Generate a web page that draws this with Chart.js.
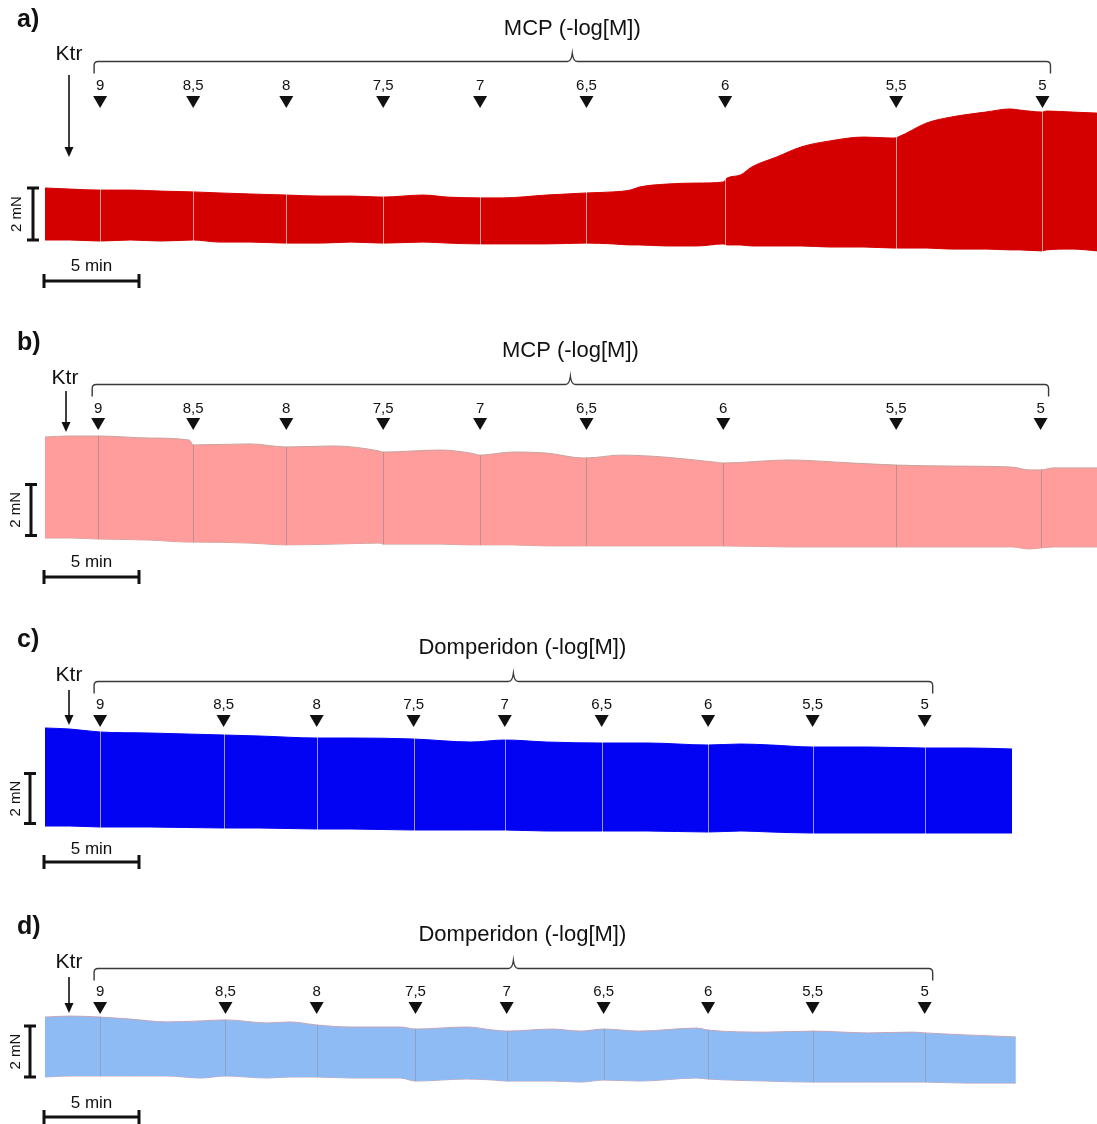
<!DOCTYPE html>
<html>
<head>
<meta charset="utf-8">
<script src="https://cdn.jsdelivr.net/npm/chart.js@4.4.1/dist/chart.umd.min.js"></script>
<style>
  body { margin: 0; background: #fff; }
  #figure { width: 1097px; height: 1124px; }
  canvas { display: block; }
</style>
</head>
<body>
<div id="figure">
  <canvas id="panel-a" width="1097" height="305"></canvas>
  <canvas id="panel-b" width="1097" height="290"></canvas>
  <canvas id="panel-c" width="1097" height="290"></canvas>
  <canvas id="panel-d" width="1097" height="239"></canvas>
</div>
<script>
// recording window shown in every panel (min)
const X_MAX = 55.37;
const doseLabels = ['9', '8,5', '8', '7,5', '7', '6,5', '6', '5,5', '5'];

// a) MCP, red trace: time (min), upper / lower envelope of the contraction (mN)
const timeA = [0, 1.3, 2.9, 4.5, 6.1, 7.8, 9.2, 10.8, 12.7, 14.5, 16.1, 17.8, 19.9, 21.2, 22.9, 24.1, 26.4, 28.5, 29.9, 30.8,
  31.3, 32.7, 34.3, 35.7, 35.9, 36.6, 37.2, 38.5, 39.8, 41.3, 43.1, 44.7, 44.9, 46.4, 47.7, 49.5, 50.8, 51.3, 52.5, 52.7, 54.1, 55.4];
const upperA = [2.00, 1.96, 1.92, 1.92, 1.88, 1.85, 1.81, 1.77, 1.73, 1.69, 1.69, 1.65, 1.73, 1.65, 1.62, 1.62, 1.73, 1.81, 1.85, 1.92,
  2.04, 2.15, 2.19, 2.23, 2.38, 2.50, 2.81, 3.19, 3.58, 3.81, 3.96, 3.92, 3.96, 4.50, 4.73, 4.92, 5.04, 5.00, 4.92, 4.96, 4.92, 4.88];
const lowerA = [0, 0, -0.04, 0, -0.04, 0, -0.08, -0.08, -0.12, -0.12, -0.08, -0.12, -0.08, -0.12, -0.15, -0.15, -0.15, -0.12, -0.15, -0.19,
  -0.19, -0.23, -0.23, -0.15, -0.19, -0.19, -0.23, -0.23, -0.23, -0.27, -0.27, -0.31, -0.31, -0.31, -0.35, -0.35, -0.38, -0.38, -0.42, -0.38, -0.35, -0.42];
const dosesA = [2.9, 7.8, 12.7, 17.8, 22.9, 28.5, 35.8, 44.8, 52.5];

// b) MCP, pink trace
const timeB = [0, 1.3, 2.8, 5.5, 7.6, 7.8, 10.8, 12.7, 15.2, 17.6, 17.8, 20.8, 22.4, 22.9, 24.6, 26.4, 28.3, 28.5, 30.3, 32.5,
  35.2, 35.7, 39.1, 42.5, 44.8, 47.8, 50.9, 51.8, 52.4, 53.1, 55.4];
const upperB = [3.96, 4.00, 4.00, 3.92, 3.84, 3.65, 3.69, 3.57, 3.61, 3.41, 3.37, 3.45, 3.33, 3.25, 3.37, 3.33, 3.14, 3.14, 3.25, 3.18,
  2.98, 2.94, 3.06, 2.94, 2.86, 2.82, 2.78, 2.67, 2.67, 2.75, 2.75];
const lowerB = [0, 0, -0.04, -0.08, -0.16, -0.16, -0.20, -0.27, -0.24, -0.20, -0.24, -0.24, -0.27, -0.27, -0.27, -0.31, -0.31, -0.31, -0.31, -0.31,
  -0.31, -0.31, -0.35, -0.35, -0.35, -0.35, -0.35, -0.43, -0.39, -0.35, -0.35];
const dosesB = [2.8, 7.8, 12.7, 17.8, 22.9, 28.5, 35.7, 44.8, 52.4];

// c) Domperidon, blue trace
const timeC = [0, 1.3, 2.9, 5.5, 9.4, 11.3, 14.3, 16.1, 19.4, 22.4, 24.2, 26.4, 29.3, 31.7, 34.9, 36.6, 38.2, 40.4, 43.4, 46.3, 48.7, 50.9];
const upperC = [3.92, 3.88, 3.76, 3.72, 3.64, 3.60, 3.52, 3.52, 3.48, 3.36, 3.44, 3.36, 3.32, 3.32, 3.24, 3.28, 3.24, 3.16, 3.16, 3.12, 3.12, 3.08];
const lowerC = [0, 0, -0.04, -0.04, -0.08, -0.08, -0.12, -0.12, -0.16, -0.16, -0.16, -0.20, -0.20, -0.20, -0.24, -0.20, -0.24, -0.28, -0.28, -0.28, -0.28, -0.28];
const dosesC = [2.9, 9.4, 14.3, 19.4, 24.2, 29.3, 34.9, 40.4, 46.3];

// d) Domperidon, light blue trace
const timeD = [0, 1.3, 2.9, 4.5, 6.4, 8.2, 9.5, 11.7, 12.9, 14.3, 16.1, 18.7, 19.5, 22.2, 23.6, 24.3, 26.7, 28.2, 29.4, 31.3,
  34.3, 34.9, 38.0, 40.4, 43.3, 45.7, 46.3, 48.5, 51.1];
const upperD = [2.35, 2.39, 2.35, 2.27, 2.16, 2.20, 2.24, 2.12, 2.16, 2.04, 1.96, 1.96, 1.88, 1.96, 1.84, 1.80, 1.88, 1.80, 1.88, 1.80,
  1.92, 1.84, 1.76, 1.80, 1.73, 1.76, 1.73, 1.65, 1.57];
const lowerD = [0, 0.04, 0.04, 0.04, 0.04, -0.04, 0.04, -0.04, 0, 0, -0.04, -0.04, -0.16, -0.08, -0.12, -0.16, -0.16, -0.20, -0.12, -0.16,
  -0.04, -0.08, -0.16, -0.20, -0.20, -0.20, -0.20, -0.24, -0.24];
const dosesD = [2.9, 9.5, 14.3, 19.5, 24.3, 29.4, 34.9, 40.4, 46.3];

const FONT = '"Liberation Sans", Arial, sans-serif';
const INK = '#111';

const panels = [
  { id: 'panel-a', letter: 'a)', title: 'MCP (-log[M])', times: timeA, upper: upperA, lower: lowerA, doses: dosesA,
    fill: '#d40000', edge: '#d40000', doseLine: 'rgba(255,255,255,0.6)',
    yMin: -1, yMax: 5.5, pad: { top: 97, bottom: 39 }, barFrom: 0,
    pos: { letterY: 20, ktr: [69, 54], arrow: [69, 75, 157], bracketY: 61, titleY: 29, titleDx: 0,
      doseY: 86, triTop: 96, mnX: 33, mnLabelX: 17, minY: 281, minLabelY: 266 } },
  { id: 'panel-b', letter: 'b)', title: 'MCP (-log[M])', times: timeB, upper: upperB, lower: lowerB, doses: dosesB,
    fill: '#ff9d9d', edge: '#c9a39d', doseLine: 'rgba(140,130,130,0.55)',
    yMin: -1, yMax: 4.5, pad: { top: 118.25, bottom: 31.5 }, barFrom: 0.1,
    pos: { letterY: 38, ktr: [65, 73], arrow: [66, 86, 127], bracketY: 79, titleY: 46, titleDx: 0,
      doseY: 104, triTop: 113, mnX: 31, mnLabelX: 16, minY: 272, minLabelY: 257 } },
  { id: 'panel-c', letter: 'c)', title: 'Domperidon (-log[M])', times: timeC, upper: upperC, lower: lowerC, doses: dosesC,
    fill: '#0303f4', edge: '#0303f4', doseLine: 'rgba(210,210,255,0.7)',
    yMin: -1, yMax: 4.5, pad: { top: 118.5, bottom: 34 }, barFrom: 0.1,
    pos: { letterY: 45, ktr: [69, 80], arrow: [69, 95, 130], bracketY: 86, titleY: 53, titleDx: 9,
      doseY: 110, triTop: 120, mnX: 30, mnLabelX: 16, minY: 267, minLabelY: 254 } },
  { id: 'panel-d', letter: 'd)', title: 'Domperidon (-log[M])', times: timeD, upper: upperD, lower: lowerD, doses: dosesD,
    fill: '#8fbbf5', edge: '#c2a6bb', doseLine: 'rgba(140,140,150,0.5)',
    yMin: -1, yMax: 3, pad: { top: 115.5, bottom: 21.5 }, barFrom: 0,
    pos: { letterY: 42, ktr: [69, 77], arrow: [69, 92, 128], bracketY: 83, titleY: 50, titleDx: 9,
      doseY: 107, triTop: 117, mnX: 30, mnLabelX: 16, minY: 232, minLabelY: 218 } }
];

function text(ctx, str, x, y, font, align) {
  ctx.font = font;
  ctx.textAlign = align || 'center';
  ctx.textBaseline = 'middle';
  ctx.fillStyle = INK;
  ctx.fillText(str, x, y);
}

// dose lines, concentration markers, bracket and scale bars
const traceMarks = {
  id: 'traceMarks',
  afterDatasetsDraw(chart) {
    const p = chart.config.options.panel;
    const { ctx, chartArea, scales: { x } } = chart;
    ctx.save();
    // only paint over the filled trace
    ctx.globalCompositeOperation = 'source-atop';
    ctx.strokeStyle = p.doseLine;
    ctx.lineWidth = 1;
    p.doses.forEach(t => {
      const px = Math.round(x.getPixelForValue(t)) + 0.5;
      ctx.beginPath();
      ctx.moveTo(px, chartArea.top);
      ctx.lineTo(px, chartArea.bottom);
      ctx.stroke();
    });
    ctx.restore();
  },
  afterDraw(chart) {
    const p = chart.config.options.panel;
    const q = p.pos;
    const { ctx, scales: { x, y } } = chart;
    ctx.save();

    text(ctx, p.letter, 17, q.letterY, 'bold 25px ' + FONT, 'left');
    text(ctx, 'Ktr', q.ktr[0], q.ktr[1], '21px ' + FONT);

    // Ktr arrow
    const [ax, a0, a1] = q.arrow;
    ctx.strokeStyle = INK;
    ctx.fillStyle = INK;
    ctx.lineWidth = 1.6;
    ctx.beginPath();
    ctx.moveTo(ax, a0);
    ctx.lineTo(ax, a1 - 8);
    ctx.stroke();
    ctx.beginPath();
    ctx.moveTo(ax - 4.5, a1 - 10);
    ctx.lineTo(ax + 4.5, a1 - 10);
    ctx.lineTo(ax, a1);
    ctx.closePath();
    ctx.fill();

    // bracket over the concentration series
    const left = x.getPixelForValue(p.doses[0]) - 6;
    const right = x.getPixelForValue(p.doses[p.doses.length - 1]) + 8;
    const mid = (left + right) / 2;
    const by = q.bracketY + 0.5;
    ctx.strokeStyle = '#3a3a3a';
    ctx.lineWidth = 1.4;
    ctx.beginPath();
    ctx.moveTo(left, by + 12);
    ctx.lineTo(left, by + 4);
    ctx.quadraticCurveTo(left, by, left + 4, by);
    ctx.lineTo(mid - 5, by);
    ctx.quadraticCurveTo(mid - 1, by, mid, by - 8);
    ctx.quadraticCurveTo(mid + 1, by, mid + 5, by);
    ctx.lineTo(right - 4, by);
    ctx.quadraticCurveTo(right, by, right, by + 4);
    ctx.lineTo(right, by + 12);
    ctx.stroke();

    text(ctx, p.title, mid + q.titleDx, q.titleY, '22px ' + FONT);

    // concentration labels and triangles
    p.doses.forEach((t, i) => {
      const px = x.getPixelForValue(t);
      text(ctx, doseLabels[i], px, q.doseY, '15px ' + FONT);
      ctx.fillStyle = INK;
      ctx.beginPath();
      ctx.moveTo(px - 7, q.triTop);
      ctx.lineTo(px + 7, q.triTop);
      ctx.lineTo(px, q.triTop + 12);
      ctx.closePath();
      ctx.fill();
    });

    // 2 mN scale bar
    const yTop = y.getPixelForValue(p.barFrom + 2);
    const yBot = y.getPixelForValue(p.barFrom);
    ctx.strokeStyle = INK;
    ctx.lineWidth = 3;
    ctx.beginPath();
    ctx.moveTo(q.mnX, yTop);
    ctx.lineTo(q.mnX, yBot);
    ctx.moveTo(q.mnX - 6, yTop);
    ctx.lineTo(q.mnX + 6, yTop);
    ctx.moveTo(q.mnX - 6, yBot);
    ctx.lineTo(q.mnX + 6, yBot);
    ctx.stroke();
    ctx.save();
    ctx.translate(q.mnLabelX, (yTop + yBot) / 2);
    ctx.rotate(-Math.PI / 2);
    text(ctx, '2 mN', 0, 0, '15px ' + FONT);
    ctx.restore();

    // 5 min scale bar
    const x0 = x.getPixelForValue(0) - 1;
    const x5 = x.getPixelForValue(5) - 1;
    ctx.strokeStyle = INK;
    ctx.lineWidth = 3;
    ctx.beginPath();
    ctx.moveTo(x0, q.minY);
    ctx.lineTo(x5, q.minY);
    ctx.moveTo(x0, q.minY - 7);
    ctx.lineTo(x0, q.minY + 7);
    ctx.moveTo(x5, q.minY - 7);
    ctx.lineTo(x5, q.minY + 7);
    ctx.stroke();
    text(ctx, '5 min', (x0 + x5) / 2, q.minLabelY, '17px ' + FONT);

    ctx.restore();
  }
};

panels.forEach(p => {
  new Chart(document.getElementById(p.id), {
    type: 'line',
    data: {
      datasets: [
        { data: p.times.map((t, i) => ({ x: t, y: p.upper[i] })), borderColor: p.edge, borderWidth: 1,
          backgroundColor: p.fill, fill: '+1' },
        { data: p.times.map((t, i) => ({ x: t, y: p.lower[i] })), borderColor: p.edge, borderWidth: 1,
          backgroundColor: p.fill, fill: false }
      ]
    },
    options: {
      panel: p,
      responsive: false,
      animation: false,
      events: [],
      layout: { padding: { left: 45, right: 0, top: p.pad.top, bottom: p.pad.bottom } },
      elements: { point: { radius: 0 }, line: { cubicInterpolationMode: 'monotone' } },
      scales: {
        x: { type: 'linear', min: 0, max: X_MAX, display: false },
        y: { min: p.yMin, max: p.yMax, display: false }
      },
      plugins: { legend: { display: false }, tooltip: { enabled: false } }
    },
    plugins: [traceMarks]
  });
});
</script>
</body>
</html>
